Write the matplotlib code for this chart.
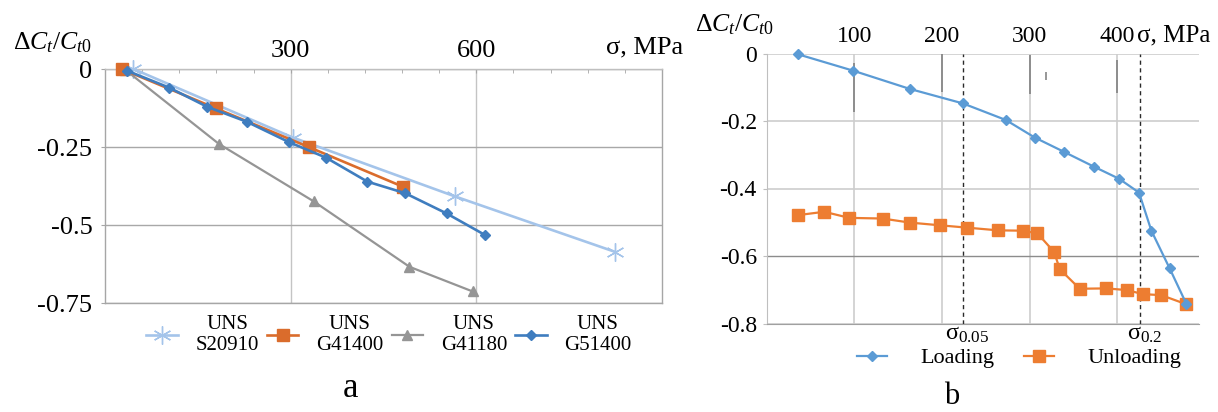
import matplotlib
matplotlib.use('Agg')
import matplotlib.pyplot as plt

plt.rcParams['font.family'] = ['Liberation Serif', 'DejaVu Serif']
plt.rcParams['mathtext.fontset'] = 'custom'
plt.rcParams['mathtext.rm'] = 'Liberation Serif'
plt.rcParams['mathtext.it'] = 'Liberation Serif:italic'
plt.rcParams['axes.unicode_minus'] = False

# ---------------- Panel a data ----------------
s20910_x = [46, 304, 565, 824]
s20910_y = [0.0, -0.220, -0.408, -0.586]
g41400_x = [27, 179, 329, 481]
g41400_y = [0.0, -0.126, -0.250, -0.377]
g41180_x = [33, 184, 337, 492, 594]
g41180_y = [-0.003, -0.240, -0.424, -0.634, -0.713]
g51400_x = [35, 104, 165, 229, 298, 357, 424, 485, 552, 614]
g51400_y = [-0.005, -0.060, -0.121, -0.169, -0.235, -0.284, -0.361, -0.398, -0.463, -0.532]
series_a_names = ['UNS\nS20910', 'UNS\nG41400', 'UNS\nG41180', 'UNS\nG51400']
a_xticks = [300, 600]
a_xticklabels = ['300', '600']
a_yticks = [0, -0.25, -0.5, -0.75]
a_yticklabels = ['0', '-0.25', '-0.5', '-0.75']

# ---------------- Panel b data ----------------
load_x = [35.5, 98.9, 163.4, 224, 272.8, 305.8, 338.8, 373, 401.8, 424.6, 438.7, 459.6, 478.6]
load_y = [-0.002, -0.051, -0.105, -0.148, -0.197, -0.249, -0.291, -0.335, -0.371, -0.412,
          -0.525, -0.637, -0.742]
unload_x = [35.5, 65.8, 94.3, 132.3, 163.4, 197.6, 228.7, 264, 292.5, 308.9, 327.8, 334.3,
            357, 387.5, 411, 429, 450, 478.6]
unload_y = [-0.479, -0.469, -0.487, -0.489, -0.501, -0.509, -0.516, -0.524, -0.525, -0.533,
            -0.588, -0.639, -0.697, -0.696, -0.701, -0.713, -0.716, -0.743]
series_b_names = ['Loading', 'Unloading']
sigma_005 = 223.5
sigma_02 = 425.5
b_xticks = [100, 200, 300, 400]
b_xticklabels = ['100', '200', '300', '400']
b_yticks = [0, -0.2, -0.4, -0.6, -0.8]
b_yticklabels = ['0', '-0.2', '-0.4', '-0.6', '-0.8']
# faint scan marks near the top of panel b
mark_x = [0, 100, 200, 300, 319, 400]
mark_top = [-0.002, -0.028, -0.002, -0.005, -0.054, -0.02]
mark_bottom = [-0.128, -0.172, -0.113, -0.12, -0.078, -0.117]

W, H = 1218, 412
fig = plt.figure(figsize=(W / 100, H / 100), dpi=100)


def fr(l, t, r, b):
    return [l / W, 1 - b / H, (r - l) / W, (b - t) / H]


# ================= Panel a =================
axa = fig.add_axes(fr(105, 69, 662, 303))
axa.set_xlim(0, 900)
axa.set_ylim(-0.75, 0)
axa.xaxis.tick_top()
axa.set_xticks(a_xticks, a_xticklabels)
axa.set_xticks(list(range(60, 900, 60)), minor=True)
axa.set_yticks(a_yticks, a_yticklabels)
axa.tick_params(axis='x', which='both', direction='in', length=3, color='#A6A6A6',
                labelsize=19, pad=5, top=True, bottom=False)
axa.tick_params(axis='y', direction='out', length=3, color='#A6A6A6',
                labelsize=19, pad=6)
for s in axa.spines.values():
    s.set_color('#A6A6A6')
    s.set_linewidth(1.0)
axa.spines['top'].set_color('#BFBFBF')
axa.grid(True, axis='x', which='major', color='#C4C4C4', lw=1.0)
axa.grid(True, axis='y', which='major', color='#A8A8A8', lw=1.0)
axa.set_axisbelow(True)

la = []
la.append(axa.plot(s20910_x, s20910_y, color='#A4C4EA', lw=1.9, marker=(6, 2, 0),
                   ms=13, mew=1.0, clip_on=False, zorder=3)[0])
la.append(axa.plot(g41400_x, g41400_y, color='#DA6C2C', lw=1.9, marker='s',
                   ms=8, clip_on=False, zorder=4)[0])
la.append(axa.plot(g41180_x, g41180_y, color='#959595', lw=1.6, marker='^',
                   ms=7.5, clip_on=False, zorder=3)[0])
la.append(axa.plot(g51400_x, g51400_y, color='#3F7DBF', lw=1.9, marker='D',
                   ms=5.5, clip_on=False, zorder=5)[0])

lega = axa.legend(la, series_a_names, loc='center', bbox_to_anchor=(389 / W, 1 - 335 / H),
                  bbox_transform=fig.transFigure, ncol=4, frameon=False, fontsize=15,
                  handlelength=1.5, handletextpad=0.85, columnspacing=0.4)
for t in lega.get_texts():
    t.set_multialignment('center')

fig.text(13 / W, 1 - 43 / H, 'Δ$C_t$/$C_{t0}$', ha='left', va='center', fontsize=18.5)
fig.text(645 / W, 1 - 47 / H, 'σ, MPa', ha='center', va='center', fontsize=19)
fig.text(350 / W, 1 - 397 / H, 'a', ha='center', va='baseline', fontsize=25)

# ================= Panel b =================
axb = fig.add_axes(fr(766.5, 53.5, 1199, 323.5))
axb.set_xlim(0, 493)
axb.set_ylim(-0.8, 0)
axb.xaxis.tick_top()
axb.set_xticks(b_xticks, b_xticklabels)
axb.set_yticks(b_yticks, b_yticklabels)
axb.tick_params(axis='x', length=0, labelsize=17, pad=5)
axb.tick_params(axis='y', direction='out', length=3, color='#BFBFBF',
                labelsize=17, pad=4)
axb.spines['top'].set_visible(False)
axb.spines['right'].set_visible(False)
axb.spines['left'].set_color('#BFBFBF')
axb.spines['bottom'].set_color('#A0A0A0')
axb.grid(True, color='#CDCDCD', lw=1.2)
axb.set_axisbelow(True)
gl = axb.yaxis.get_gridlines()
gl[3].set_color('#8C8C8C')
gl[3].set_linewidth(1.0)

axb.vlines(mark_x, mark_bottom, mark_top, color='#7A7A7A', lw=1.1, zorder=1.5)
axb.axvline(sigma_005, color='#2A2A2A', ls=(0, (3, 2.5)), lw=1.0, zorder=2)
axb.axvline(sigma_02, color='#2A2A2A', ls=(0, (3, 2.5)), lw=1.0, zorder=2)

lb = []
lb.append(axb.plot(load_x, load_y, color='#5B9BD5', lw=1.6, marker='D', ms=5,
                   clip_on=False, zorder=4)[0])
lb.append(axb.plot(unload_x, unload_y, color='#ED7D31', lw=1.6, marker='s', ms=8,
                   clip_on=False, zorder=3)[0])

axb.legend(lb, series_b_names, loc='center', bbox_to_anchor=(1019 / W, 1 - 358 / H),
           bbox_transform=fig.transFigure, ncol=2, frameon=False, fontsize=16,
           handlelength=1.35, handletextpad=1.5, columnspacing=1.35)

fig.text(945 / W, 1 - 324 / H, 'σ$_{0.05}$', ha='left', va='top', fontsize=17.5)
fig.text(1127 / W, 1 - 324 / H, 'σ$_{0.2}$', ha='left', va='top', fontsize=17.5)
fig.text(695 / W, 1 - 25 / H, 'Δ$C_t$/$C_{t0}$', ha='left', va='center', fontsize=18.5)
fig.text(1137 / W, 1 - 35 / H, 'σ, MPa', ha='left', va='center', fontsize=18)
fig.text(952 / W, 1 - 411 / H, 'b', ha='center', va='bottom', fontsize=22)

fig.savefig('out.png', dpi=100)
